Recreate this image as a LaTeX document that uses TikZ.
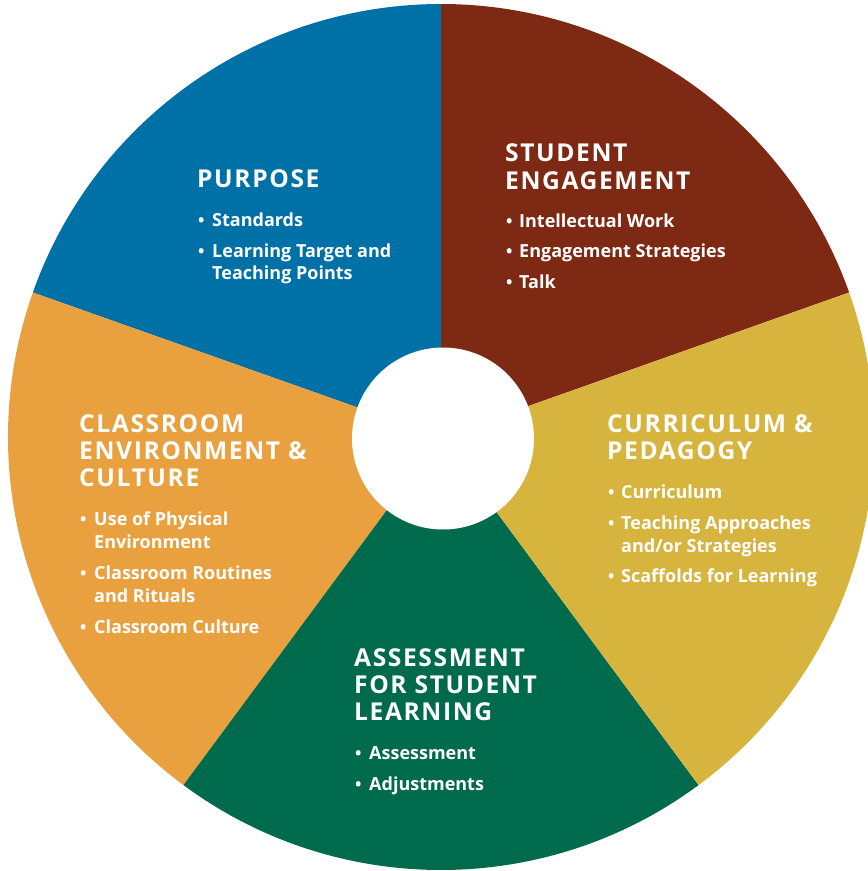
\documentclass[tikz,border=0pt]{standalone}
\usepackage{fontspec}
\setmainfont{Open Sans}
\newfontfamily\hfont[LetterSpace=6.5]{Open Sans}
\newfontfamily\bfont{Open Sans}
\definecolor{cblue}{RGB}{0,113,167}
\definecolor{cbrown}{RGB}{126,41,20}
\definecolor{cyellow}{RGB}{214,180,62}
\definecolor{cgreen}{RGB}{0,107,76}
\definecolor{corange}{RGB}{233,160,62}
\tikzset{
  head/.style={anchor=base west, inner sep=0pt, text=white, font=\hfont\bfseries\fontsize{24.6}{27}\selectfont},
  itm/.style={anchor=base west, inner sep=0pt, text=white, font=\bfont\bfseries\fontsize{18}{22}\selectfont},
  bul/.style={anchor=base west, inner sep=0pt, text=white, font=\bfont\bfseries\fontsize{17}{22}\selectfont},
}
\newcommand{\pieslice}[3]{\fill[#1] (C) -- ++(-#2:433) arc[start angle=-#2, end angle=-#3, radius=433] -- cycle;}
\begin{document}
\begin{tikzpicture}[x=1pt,y=-1pt]
\useasboundingbox (0,0) rectangle (868,871);
\fill[white] (0,0) rectangle (868,871);
\clip (0,0) rectangle (868,871);
\coordinate (C) at (441,437);
\pieslice{cbrown}{19.5}{90}
\pieslice{cblue}{90}{160.5}
\pieslice{corange}{160.5}{233.5}
\pieslice{cgreen}{233.5}{306.5}
\pieslice{cyellow}{306.5}{379.5}
\fill[white] (443,438.5) circle[radius=91];
% Purpose
\node[head] (p0) at (197,187) {PURPOSE};
\node[bul] (pb1) at (198,226) {•};
\node[itm] (p1) at (212,226) {Standards};
\node[bul] (pb2) at (198,257) {•};
\node[itm] (p2) at (212,257) {Learning Target and};
\node[itm] (p3) at (212,279) {Teaching Points};
% Student engagement
\node[head] (s0) at (505,161.5) {STUDENT};
\node[head] (s1) at (505,189) {ENGAGEMENT};
\node[bul] (sb1) at (506,227.5) {•};
\node[itm] (s2) at (519,227.5) {Intellectual Work};
\node[bul] (sb2) at (506,257.5) {•};
\node[itm] (s3) at (519,257.5) {Engagement Strategies};
\node[bul] (sb3) at (506,288) {•};
\node[itm] (s4) at (519,288) {Talk};
% Curriculum
\node[head] (c0) at (607,432) {CURRICULUM \&};
\node[head] (c1) at (607,459.5) {PEDAGOGY};
\node[bul] (cb1) at (608,498) {•};
\node[itm] (c2) at (621,498) {Curriculum};
\node[bul] (cb2) at (608,529) {•};
\node[itm] (c3) at (621,529) {Teaching Approaches};
\node[itm] (c4) at (621,552) {and/or Strategies};
\node[bul] (cb3) at (608,582.5) {•};
\node[itm] (c5) at (621,582.5) {Scaffolds for Learning};
% Classroom
\node[head] (e0) at (79,432.7) {CLASSROOM};
\node[head] (e1) at (79,459.3) {ENVIRONMENT \&};
\node[head] (e2) at (79,486) {CULTURE};
\node[bul] (eb1) at (80,525) {•};
\node[itm] (e3) at (94,525) {Use of Physical};
\node[itm] (e4) at (94,548) {Environment};
\node[bul] (eb2) at (80,579) {•};
\node[itm] (e5) at (94,579) {Classroom Routines};
\node[itm] (e6) at (94,602) {and Rituals};
\node[bul] (eb3) at (80,633) {•};
\node[itm] (e7) at (94,633) {Classroom Culture};
% Assessment
\node[head] (a0) at (354,666) {ASSESSMENT};
\node[head] (a1) at (354,693) {FOR STUDENT};
\node[head] (a2) at (354,720.5) {LEARNING};
\node[bul] (ab1) at (355,759) {•};
\node[itm] (a3) at (369,759) {Assessment};
\node[bul] (ab2) at (355,790) {•};
\node[itm] (a4) at (369,790) {Adjustments};
\end{tikzpicture}
\end{document}
